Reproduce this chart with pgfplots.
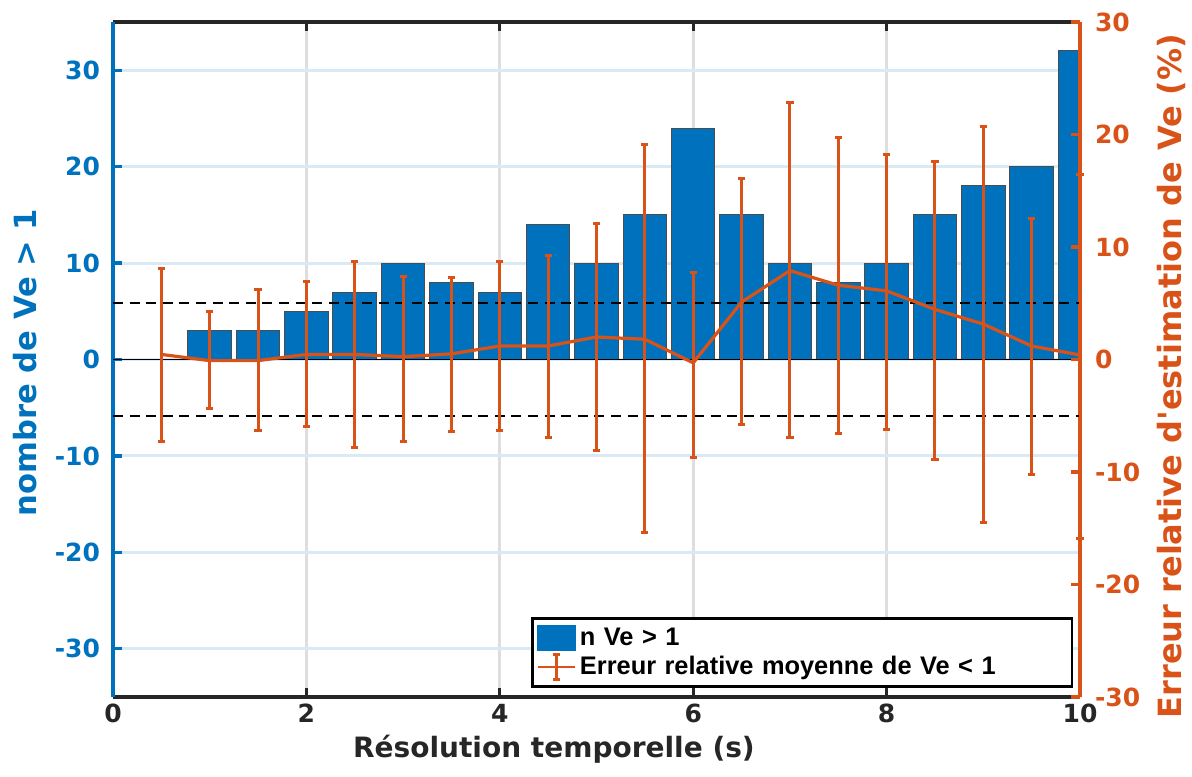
\documentclass[border=0pt]{standalone}
\usepackage{fontspec}
\setmainfont{DejaVu Sans}
\newfontfamily\rawfont{DejaVu Sans}[Ligatures=TeXOff]
\newfontfamily\legfont{Liberation Sans}
\usepackage{pgfplots}
\usepackage{pgfplotstable}
\pgfplotsset{compat=1.18}
\definecolor{mblue}{HTML}{0072BD}
\definecolor{morange}{HTML}{D95319}
\definecolor{hgrid}{RGB}{217,234,245}
\definecolor{vgrid}{RGB}{222,222,222}
\definecolor{mdark}{HTML}{262626}

\pgfplotstableread{
x y
1 3
1.5 3
2 5
2.5 7
3 10
3.5 8
4 7
4.5 14
5 10
5.5 15
6 24
6.5 15
7 10
7.5 8
8 10
8.5 15
9 18
9.5 20
10 32
}\bars

\pgfplotstableread{
x y ep em
0.5 0.45 7.65 7.75
1 -0.1 4.35 4.3
1.5 -0.1 6.3 6.2
2 0.45 6.45 6.45
2.5 0.45 8.25 8.25
3 0.25 7.15 7.55
3.5 0.5 6.8 6.9
4 1.2 7.55 7.5
4.5 1.2 8.0 8.1
5 2.0 10.1 10.1
5.5 1.8 17.3 17.2
6 -0.3 8.0 8.4
6.5 5.1 11.0 10.9
7 7.9 14.9 14.85
7.5 6.6 13.15 13.2
8 6.1 12.15 12.35
8.5 4.45 13.15 13.35
9 3.15 17.6 17.65
9.5 1.2 11.3 11.4
10 0.4 16.0 16.3
}\err

\pgfplotstableread{
x y
0 5
10 5
}\dashup
\pgfplotstableread{
x y
0 -5
10 -5
}\dashdn
\pgfplotstableread{
x y
0 0
10 0
}\basel

\begin{document}
\begin{tikzpicture}
\useasboundingbox (-56.5pt,-39.5pt) rectangle (539.5pt,348.5pt);
\begin{axis}[
  at={(0pt,0pt)}, anchor=south west,
  scale only axis, width=483.5pt, height=337.5pt,
  xmin=0, xmax=10, ymin=-35, ymax=35,
  axis y line*=left,
  x axis line style={mdark, line width=1.6pt},
  y axis line style={mblue, line width=1.6pt},
  xtick={0,2,4,6,8,10},
  ytick={-30,-20,-10,0,10,20,30},
  major tick length=4.5pt,
  xtick style={mdark, line width=1.6pt},
  ytick style={mblue, line width=1.6pt},
  /pgf/number format/assume math mode=true,
  tick label style={font=\fontsize{12.5}{15}\selectfont\bfseries},
  xticklabel style={text=mdark},
  yticklabel style={text=mblue, xshift=-3pt},
  xmajorgrids, ymajorgrids,
  x grid style={vgrid, line width=1.5pt},
  y grid style={hgrid, line width=1.5pt},
  xlabel={Résolution temporelle (s)},
  xlabel style={font=\fontsize{14}{16}\selectfont\bfseries, text=mdark, at={(axis description cs:0.456,-0.078)}, anchor=center},
  ylabel={nombre de Ve > 1},
  ylabel style={font=\fontsize{15.3}{17}\selectfont\bfseries, text=mblue, at={(axis description cs:-0.091,0.4956)}, anchor=center},
]
\addplot[ybar, bar width=0.45, fill=mblue, draw=black!70, line width=0.5pt] table[x=x, y=y] {\bars};
\addplot[black, line width=0.8pt] table[x=x, y=y] {\basel};
\end{axis}

\begin{axis}[
  at={(0pt,0pt)}, anchor=south west,
  scale only axis, width=483.5pt, height=337.5pt,
  xmin=0, xmax=10, ymin=-30, ymax=30,
  axis x line=none,
  axis y line*=right,
  y axis line style={morange, line width=1.6pt},
  ytick={-30,-20,-10,0,10,20,30},
  major tick length=4.5pt,
  ytick style={morange, line width=1.6pt},
  /pgf/number format/assume math mode=true,
  tick label style={font=\fontsize{12.5}{15}\selectfont\bfseries},
  yticklabel style={text=morange, xshift=4pt},
  ylabel={\rawfont\bfseries Erreur relative d'estimation de Ve (\%)},
  ylabel style={font=\fontsize{16}{18}\selectfont\bfseries, text=morange, at={(axis description cs:1.095,0.4756)}, anchor=center},
  clip=false,
  legend style={at={(axis description cs:0.993,0.0133)}, anchor=south east,
    draw=black, line width=1.3pt, fill=white,
    font=\legfont\bfseries\fontsize{12.7}{15}\selectfont,
    inner xsep=2pt, inner ysep=3pt, row sep=1pt,
    nodes={text width=242pt, align=left, inner xsep=2pt, inner ysep=1.5pt}},
  legend cell align=left,
]
\addplot[black, dashed, dash pattern=on 5pt off 3.3pt, line width=1pt, forget plot] table[x=x, y=y] {\dashup};
\addplot[black, dashed, dash pattern=on 5pt off 3.3pt, line width=1pt, forget plot] table[x=x, y=y] {\dashdn};
\addlegendimage{legend image code/.code={\fill[mblue] (0pt,-6pt) rectangle (18.3pt,6pt);}}
\addlegendentry{n Ve > 1}
\addplot[morange, line width=1.6pt, mark=none,
  legend image code/.code={
    \draw[morange, line width=1.3pt] (0pt,0pt) -- (18.3pt,0pt);
    \draw[morange, line width=1.3pt] (9.15pt,-6.2pt) -- (9.15pt,6.2pt);
    \draw[morange, line width=1.3pt] (7.5pt,-6.2pt) -- (10.8pt,-6.2pt);
    \draw[morange, line width=1.3pt] (7.5pt,6.2pt) -- (10.8pt,6.2pt);
  },
  error bars/.cd, y dir=both, y explicit,
  error bar style={morange, line width=1.5pt},
  error mark options={rotate=90, morange, mark size=1.8pt, line width=1.5pt}]
  table[x=x, y=y, y error plus=ep, y error minus=em] {\err};
\addlegendentry{Erreur relative moyenne de Ve < 1}
\end{axis}
\end{tikzpicture}
\end{document}
